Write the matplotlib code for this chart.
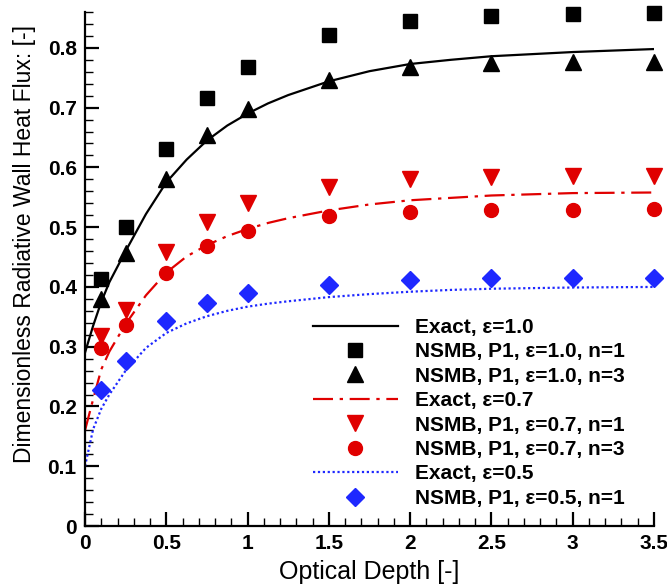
import matplotlib
matplotlib.use("Agg")
import matplotlib.pyplot as plt
from matplotlib.ticker import MultipleLocator

plt.rcParams['font.family'] = ['Liberation Sans', 'DejaVu Sans']

# Simulation sample depths
tau = [0.1, 0.25, 0.5, 0.75, 1.0, 1.5, 2.0, 2.5, 3.0, 3.5]
nsmb_e10_n1 = [0.414, 0.500, 0.631, 0.716, 0.768, 0.821, 0.845, 0.854, 0.856, 0.858]
nsmb_e10_n3 = [0.379, 0.456, 0.580, 0.654, 0.698, 0.746, 0.768, 0.774, 0.776, 0.776]
nsmb_e07_n1 = [0.318, 0.362, 0.459, 0.509, 0.540, 0.568, 0.580, 0.584, 0.586, 0.586]
nsmb_e07_n3 = [0.298, 0.336, 0.423, 0.468, 0.493, 0.518, 0.526, 0.529, 0.529, 0.531]
nsmb_e05_n1 = [0.228, 0.276, 0.343, 0.373, 0.390, 0.404, 0.412, 0.415, 0.415, 0.415]

# Exact solution curves
tau_exact = [0.0, 0.05, 0.1, 0.15, 0.25, 0.375, 0.5, 0.625, 0.75, 0.875, 1.0, 1.125, 1.25,
             1.5, 1.75, 2.0, 2.25, 2.5, 3.0, 3.5]
exact_e10 = [0.290, 0.335, 0.375, 0.408, 0.460, 0.522, 0.575, 0.613, 0.645, 0.670, 0.690, 0.707,
             0.721, 0.744, 0.761, 0.773, 0.780, 0.786, 0.793, 0.798]
exact_e07 = [0.160, 0.212, 0.262, 0.292, 0.338, 0.386, 0.424, 0.451, 0.470, 0.485, 0.497, 0.507,
             0.515, 0.528, 0.538, 0.545, 0.549, 0.553, 0.557, 0.558]
exact_e05 = [0.100, 0.162, 0.196, 0.220, 0.260, 0.298, 0.323, 0.339, 0.351, 0.360, 0.367, 0.372,
             0.376, 0.383, 0.388, 0.392, 0.395, 0.397, 0.399, 0.400]

RED = '#e00000'
BLUE = '#1e28ff'

fig = plt.figure(figsize=(6.67, 5.84), dpi=100)
ax = fig.add_axes([85/667, 1-526/584, (654-85)/667, (526-12)/584])

ax.plot(tau_exact, exact_e10, color='black', lw=1.6, label='Exact, ε=1.0')
ax.plot(tau, nsmb_e10_n1, 's', color='black', ms=9.5, ls='none', clip_on=False,
        label='NSMB, P1, ε=1.0, n=1')
ax.plot(tau, nsmb_e10_n3, '^', color='black', ms=11, ls='none', clip_on=False,
        label='NSMB, P1, ε=1.0, n=3')
ax.plot(tau_exact, exact_e07, color=RED, lw=1.6, dashes=(9, 3, 1.5, 3), label='Exact, ε=0.7')
ax.plot(tau, nsmb_e07_n1, 'v', color=RED, ms=11, ls='none', clip_on=False,
        label='NSMB, P1, ε=0.7, n=1')
ax.plot(tau, nsmb_e07_n3, 'o', color=RED, ms=10, ls='none', clip_on=False,
        label='NSMB, P1, ε=0.7, n=3')
ax.plot(tau_exact, exact_e05, color=BLUE, lw=1.6, dashes=(1, 1.2), label='Exact, ε=0.5')
ax.plot(tau, nsmb_e05_n1, 'D', color=BLUE, ms=9, ls='none', clip_on=False,
        label='NSMB, P1, ε=0.5, n=1')

ax.set_xlim(0, 3.5)
ax.set_ylim(0, 0.86)
ax.xaxis.set_minor_locator(MultipleLocator(0.1))
ax.yaxis.set_minor_locator(MultipleLocator(0.02))
ax.set_xticks([0, 0.5, 1, 1.5, 2, 2.5, 3, 3.5])
ax.set_xticklabels(['0', '0.5', '1', '1.5', '2', '2.5', '3', '3.5'])
ax.set_yticks([0, 0.1, 0.2, 0.3, 0.4, 0.5, 0.6, 0.7, 0.8])
ax.set_yticklabels(['0', '0.1', '0.2', '0.3', '0.4', '0.5', '0.6', '0.7', '0.8'])

ax.spines['top'].set_visible(False)
ax.spines['right'].set_visible(False)
for s in ('left', 'bottom'):
    ax.spines[s].set_linewidth(1.6)
ax.tick_params(which='major', direction='in', length=10, width=1.6, labelsize=15, pad=6)
ax.tick_params(which='minor', direction='in', length=5.5, width=1.0)
for lab in ax.get_xticklabels() + ax.get_yticklabels():
    lab.set_fontweight('bold')

ax.set_xlabel('Optical Depth [-]', fontsize=18, fontweight='normal')
ax.xaxis.set_label_coords(0.5, -0.066, transform=ax.transAxes)
ax.xaxis.label.set_va('top')
ax.set_ylabel('Dimensionless Radiative Wall Heat Flux: [-]', fontsize=16.5, fontweight='normal')
ax.yaxis.set_label_coords((25-85)/569, (526-244)/514)
ax.yaxis.label.set_va('center')

leg = ax.legend(loc='lower right', frameon=False, handlelength=4.1,
                labelspacing=0.26, handletextpad=0.8, borderaxespad=0.3,
                bbox_to_anchor=(0.974, 0.007), prop={'weight': 'bold', 'size': 15})

fig.savefig('out.png', dpi=100)
